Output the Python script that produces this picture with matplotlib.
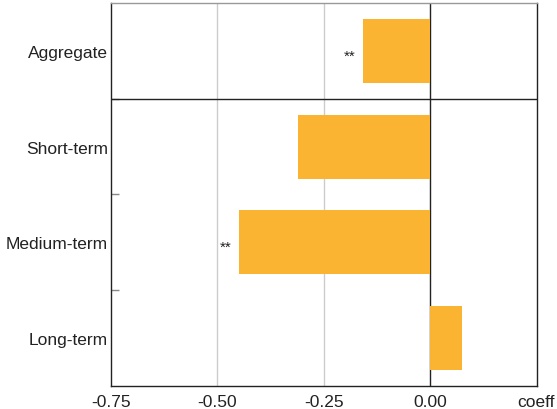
import matplotlib.pyplot as plt

# Data
categories = ['Aggregate', 'Short-term', 'Medium-term', 'Long-term']
coeffs = [-0.157, -0.310, -0.449, 0.075]
stars = ['**', '', '**', '']
xtick_vals = [-0.75, -0.50, -0.25, 0.00, 0.25]
xtick_labels = ['-0.75', '-0.50', '-0.25', '0.00', 'coeff']

plt.rcParams['font.family'] = ['Liberation Sans', 'DejaVu Sans']

fig = plt.figure(figsize=(5.57, 4.10), dpi=100)
ax = fig.add_axes([0.1993, 0.0561, 0.7648, 0.9342])

ypos = list(range(len(categories)))
ax.barh(ypos, coeffs, height=0.67, color='#FBB332', zorder=2)

# significance stars left of bars
for y, c, s in zip(ypos, coeffs, stars):
    if s:
        ax.text(min(c, 0) - 0.018, y + 0.05, s, ha='right', va='center',
                fontsize=11, color='#222222', zorder=3)

ax.set_xlim(-0.75, 0.2516)
ax.set_ylim(3.5, -0.5)

# gridlines and zero line
for v in [-0.5, -0.25]:
    ax.axvline(v, color='#cccccc', lw=1, zorder=1)
ax.axvline(0, color='#222222', lw=1, zorder=1)
ax.axhline(0.5, color='#222222', lw=1, zorder=3)

ax.set_xticks(xtick_vals)
ax.set_xticklabels(xtick_labels)
ax.set_yticks(ypos)
ax.set_yticklabels(categories)
ax.set_yticks([0.5, 1.5, 2.5], minor=True)

ax.tick_params(axis='x', length=0, labelsize=12.5, colors='#222222', pad=6)
ax.tick_params(axis='y', which='major', length=0, labelsize=12.5, colors='#222222', pad=2)
ax.tick_params(axis='y', which='minor', length=6, direction='in', color='#888888', width=1)

for sp in ax.spines.values():
    sp.set_color('#222222')
    sp.set_linewidth(1)
ax.spines['top'].set_color('#999999')

fig.savefig('out.png', dpi=100)
